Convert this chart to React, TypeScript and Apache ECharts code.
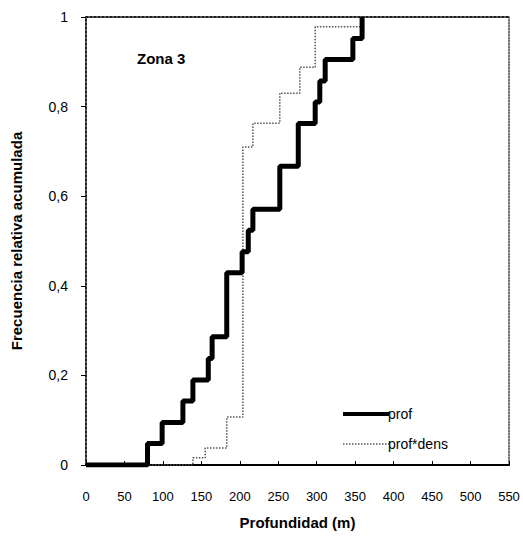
import React, { useEffect, useRef } from "react";
import * as echarts from "echarts";

const profDepth = [0, 80, 99, 126, 139, 159, 164, 183, 203, 211, 217, 252, 276, 298, 304, 311, 347, 359];
const profFreq = [0, 0.048, 0.095, 0.143, 0.19, 0.238, 0.286, 0.429, 0.476, 0.524, 0.571, 0.667, 0.762, 0.81, 0.857, 0.905, 0.952, 1];

const densDepth = [0, 139, 155, 183, 204, 217, 252, 278, 298, 358];
const densFreq = [0, 0.016, 0.038, 0.107, 0.71, 0.763, 0.83, 0.888, 0.978, 1];

const xTicks = { min: 0, max: 550, interval: 50 };
const yTicks = { min: 0, max: 1, interval: 0.2 };

const FONT = "'Liberation Sans', Arial, sans-serif";

export default function App() {
  const ref = useRef<HTMLDivElement>(null);
  useEffect(() => {
    if (!ref.current) return;
    const chart = echarts.init(ref.current, null, { renderer: "svg" });
    const profData = profDepth.map((d, i) => [d, profFreq[i]]);
    const densData = densDepth.map((d, i) => [d, densFreq[i]]);
    chart.setOption({
      animation: false,
      backgroundColor: "#fff",
      textStyle: { fontFamily: FONT },
      grid: { left: 86, right: 14, top: 17, bottom: 75 },
      title: {
        text: "Zona 3",
        left: 132,
        top: 46,
        textStyle: { fontFamily: FONT, fontSize: 15, fontWeight: "bold", color: "#000" },
      },
      legend: {
        orient: "vertical",
        left: 336,
        top: 402,
        itemWidth: 46,
        itemHeight: 14,
        itemGap: 16,
        itemStyle: { opacity: 0 },
        data: [
          { name: "prof", lineStyle: { width: 4, color: "#000" } },
          { name: "prof*dens", lineStyle: { width: 1.5, color: "#555", type: "dotted" } },
        ],
        textStyle: { fontFamily: FONT, fontSize: 14, color: "#000", padding: [0, 0, 0, -6] },
      },
      xAxis: [
        {
          type: "value",
          min: xTicks.min,
          max: xTicks.max,
          interval: xTicks.interval,
          name: "Profundidad (m)",
          nameLocation: "middle",
          nameGap: 50,
          nameTextStyle: { fontFamily: FONT, fontSize: 15, fontWeight: "bold", color: "#000" },
          axisLine: { show: true, lineStyle: { color: "#000", width: 2 } },
          axisTick: { show: true, inside: true, length: 4, lineStyle: { color: "#000" } },
          axisLabel: { margin: 25, fontSize: 13, color: "#000", fontFamily: FONT },
          splitLine: { show: false },
        },
        {
          type: "value",
          position: "top",
          min: xTicks.min,
          max: xTicks.max,
          axisLine: { show: true, onZero: false, lineStyle: { color: "#222", width: 2, type: "dotted" } },
          axisTick: { show: false },
          axisLabel: { show: false },
          splitLine: { show: false },
        },
      ],
      yAxis: [
        {
          type: "value",
          min: yTicks.min,
          max: yTicks.max,
          interval: yTicks.interval,
          name: "Frecuencia relativa acumulada",
          nameLocation: "middle",
          nameGap: 62,
          nameTextStyle: { fontFamily: FONT, fontSize: 15, fontWeight: "bold", color: "#000" },
          axisLine: { show: true, onZero: false, lineStyle: { color: "#222", width: 2, type: "dotted" } },
          axisTick: { show: true, length: 5, lineStyle: { color: "#000" } },
          axisLabel: {
            margin: 18,
            fontSize: 14,
            color: "#000",
            fontFamily: FONT,
            formatter: (v: number) => String(Math.round(v * 10) / 10).replace(".", ","),
          },
          splitLine: { show: false },
        },
        {
          type: "value",
          position: "right",
          min: yTicks.min,
          max: yTicks.max,
          axisLine: { show: true, onZero: false, lineStyle: { color: "#444", width: 1.5, type: "dotted" } },
          axisTick: { show: false },
          axisLabel: { show: false },
          splitLine: { show: false },
        },
      ],
      series: [
        {
          name: "prof",
          type: "line",
          step: "end",
          symbol: "none",
          data: profData,
          lineStyle: { color: "#000", width: 5 },
          itemStyle: { color: "#000" },
          z: 3,
        },
        {
          name: "prof*dens",
          type: "line",
          step: "end",
          symbol: "none",
          data: densData,
          lineStyle: { color: "#555", width: 1.5, type: "dotted" },
          itemStyle: { color: "#555" },
          z: 2,
        },
      ],
    });
    return () => chart.dispose();
  }, []);
  return <div ref={ref} style={{ width: 523, height: 540, position: "absolute", left: 0, top: 0 }} />;
}
